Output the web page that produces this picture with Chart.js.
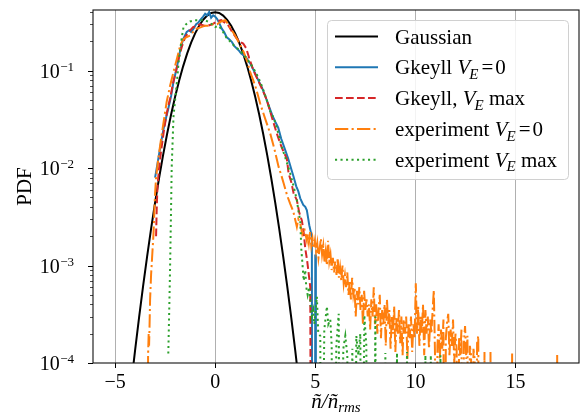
<!DOCTYPE html>
<html>
<head>
<meta charset="utf-8">
<script src="https://cdn.jsdelivr.net/npm/chart.js@4.4.1/dist/chart.umd.min.js"></script>
<style>
  html, body { margin: 0; padding: 0; background: #fff; }
  #wrap { width: 584px; height: 414px; }
</style>
</head>
<body>
<div id="wrap"><canvas id="pdfChart" width="584" height="414"></canvas></div>
<script>
// values (x = n/n_rms, y = PDF); 1e-7 marks empty bins (drop to -inf on log axis)
const gaussX = [-4.2, -4.0, -3.8, -3.6, -3.4, -3.2, -3.0, -2.8, -2.6, -2.4, -2.2, -2.0, -1.8, -1.6, -1.4, -1.2, -1.0, -0.8, -0.6, -0.4, -0.2, 0,
  0.2, 0.4, 0.6, 0.8, 1.0, 1.2, 1.4, 1.6, 1.8, 2.0, 2.2, 2.4, 2.6, 2.8, 3.0, 3.2, 3.4, 3.6, 3.8, 4.0, 4.2];
const gaussY = [5.9e-5, 1.34e-4, 2.92e-4, 6.12e-4, 1.23e-3, 2.38e-3, 4.43e-3, 7.92e-3, 0.0136, 0.0224, 0.0355, 0.054, 0.079, 0.1109, 0.1497, 0.1942, 0.242, 0.2897, 0.3332, 0.3683, 0.391, 0.3989,
  0.391, 0.3683, 0.3332, 0.2897, 0.242, 0.1942, 0.1497, 0.1109, 0.079, 0.054, 0.0355, 0.0224, 0.0136, 7.92e-3, 4.43e-3, 2.38e-3, 1.23e-3, 6.12e-4, 2.92e-4, 1.34e-4, 5.9e-5];

const gkX = [-3.0, -2.9, -2.75, -2.6, -2.5, -2.35, -2.2, -2.08, -1.95, -1.85, -1.75, -1.6, -1.42, -1.3, -1.2, -1.08, -0.95, -0.85, -0.75, -0.6, -0.5, -0.4, -0.3, -0.2, -0.1, 0.0,
  0.1, 0.2, 0.33, 0.45, 0.58, 0.7, 0.83, 0.95, 1.08, 1.2, 1.3, 1.42, 1.55, 1.65, 1.75, 1.88, 2.0, 2.15, 2.33, 2.5, 2.67, 2.85, 3.0, 3.15, 3.3, 3.5, 3.65, 3.8, 3.92,
  4.05, 4.15, 4.25, 4.4, 4.5, 4.58, 4.7, 4.78, 4.83, 4.85, 4.98, 5.0, 5.03];
const gkY = [0.008, 0.0105, 0.016, 0.024, 0.03, 0.04, 0.055, 0.077, 0.1, 0.125, 0.16, 0.21, 0.25, 0.26, 0.25, 0.27, 0.3, 0.31, 0.33, 0.36, 0.385, 0.37, 0.4, 0.35, 0.37, 0.36,
  0.34, 0.31, 0.27, 0.25, 0.22, 0.21, 0.198, 0.18, 0.169, 0.16, 0.15, 0.144, 0.137, 0.125, 0.119, 0.105, 0.094, 0.08, 0.068, 0.055, 0.044, 0.035, 0.03, 0.026, 0.02, 0.0153, 0.0125, 0.0098, 0.0081,
  0.0065, 0.0058, 0.0049, 0.0042, 0.004, 0.0037, 0.0026, 0.0022, 0.002, 1e-7, 1e-7, 0.0013, 1e-7];

const gkMaxX = [-2.95, -2.92, -2.88, -2.8, -2.7, -2.55, -2.4, -2.25, -2.1, -1.95, -1.8, -1.65, -1.5, -1.35, -1.25, -1.1, -0.92, -0.75, -0.55, -0.35, -0.15, 0.08, 0.3, 0.5, 0.67, 0.85,
  1.08, 1.25, 1.4, 1.55, 1.7, 1.92, 2.1, 2.3, 2.45, 2.58, 2.75, 2.9, 3.08, 3.25, 3.4, 3.58, 3.67, 3.8, 3.92, 4.08, 4.2, 4.33, 4.42, 4.5, 4.6, 4.68, 4.75, 4.8];
const gkMaxY = [0.002, 0.0037, 0.0065, 0.01, 0.015, 0.025, 0.038, 0.052, 0.075, 0.1, 0.14, 0.18, 0.22, 0.245, 0.26, 0.28, 0.29, 0.3, 0.29, 0.29, 0.3, 0.32, 0.33, 0.31, 0.29, 0.25,
  0.214, 0.198, 0.19, 0.17, 0.135, 0.1, 0.083, 0.068, 0.058, 0.05, 0.038, 0.03, 0.0227, 0.0179, 0.015, 0.0125, 0.0088, 0.0072, 0.0055, 0.0047, 0.0035, 0.0029, 0.0022, 0.0015, 0.0011, 0.0008, 0.0006, 1e-7];

const expX = [-3.38, -3.35, -3.32, -3.3, -3.28, -3.25, -3.2, -3.15, -3.08, -3.0, -2.95, -2.85, -2.7, -2.55, -2.42, -2.25, -2.08, -1.9, -1.75, -1.6, -1.45, -1.25, -1.1, -0.92, -0.7, -0.5, -0.3, -0.1,
  0.1, 0.3, 0.5, 0.65, 0.83, 1.0, 1.15, 1.3, 1.42, 1.6, 1.75, 1.9, 2.05, 2.25, 2.5, 2.75, 2.95, 3.17, 3.3, 3.42, 3.6, 3.75, 3.9, 4.08, 4.15, 4.25, 4.35, 4.45, 4.58,
  4.62, 4.68, 4.74, 4.8, 4.86, 4.92, 4.98, 5.04, 5.1, 5.16, 5.22, 5.28, 5.34, 5.4, 5.46, 5.52, 5.58, 5.64, 5.7, 5.76, 5.82, 5.88, 5.94,
  6.0, 6.06, 6.12, 6.18, 6.24, 6.3, 6.36, 6.42, 6.48, 6.54, 6.6, 6.66, 6.72, 6.78, 6.84, 6.9, 6.96,
  7.02, 7.08, 7.14, 7.2, 7.26, 7.32, 7.38, 7.44, 7.5, 7.56, 7.62, 7.68, 7.74, 7.8, 7.86, 7.92, 7.98,
  8.04, 8.1, 8.16, 8.22, 8.28, 8.34, 8.4, 8.46, 8.52, 8.58, 8.64, 8.7, 8.76, 8.82, 8.88, 8.94,
  9.0, 9.06, 9.12, 9.18, 9.24, 9.3, 9.36, 9.42, 9.48, 9.54, 9.6, 9.66, 9.72, 9.78, 9.84, 9.9, 9.96,
  10.02, 10.08, 10.14, 10.2, 10.26, 10.32, 10.38, 10.44, 10.5, 10.56, 10.62, 10.68, 10.74, 10.8, 10.86, 10.92, 10.98,
  11.04, 11.1, 11.16, 11.22, 11.28, 11.34, 11.4, 11.46, 11.52, 11.58, 11.64, 11.7, 11.76, 11.82, 11.88, 11.94,
  12.0, 12.06, 12.12, 12.18, 12.24, 12.3, 12.36, 12.42, 12.48, 12.54, 12.6, 12.66, 12.72, 12.78, 12.84, 12.9, 12.96,
  13.02, 13.08, 13.14, 13.2, 13.4, 13.45, 13.5, 13.7, 13.75, 13.8, 14.78, 14.83, 14.88, 17.03, 17.08, 17.13];
const expY = [1e-7, 1.2e-4, 2e-4, 1.5e-4, 2.2e-4, 4.4e-4, 8e-4, 1.2e-3, 2.1e-3, 5.5e-3, 0.008, 0.012, 0.02, 0.032, 0.048, 0.07, 0.097, 0.135, 0.18, 0.21, 0.22, 0.23, 0.25, 0.27, 0.28, 0.29, 0.29, 0.3,
  0.3, 0.32, 0.33, 0.3, 0.26, 0.23, 0.2, 0.175, 0.156, 0.125, 0.097, 0.08, 0.065, 0.046, 0.032, 0.0227, 0.016, 0.0103, 0.0085, 0.007, 0.0052, 0.0043, 0.0036, 0.0025, 0.003, 0.0027, 0.0021, 0.0024, 0.0018,
  2.1e-3, 1.7e-3, 2.2e-3, 1.6e-3, 1.9e-3, 1.5e-3, 1.8e-3, 1.4e-3, 1.7e-3, 1.2e-3, 1.5e-3, 1.9e-3, 1.3e-3, 1.6e-3, 1.1e-3, 1.4e-3, 1e-3, 1.8e-3, 1.1e-3, 1.3e-3, 9e-4, 1.2e-3, 8.5e-4,
  1.1e-3, 8e-4, 1.2e-3, 7.5e-4, 9.5e-4, 7e-4, 1e-3, 6.5e-4, 8e-4, 6e-4, 8.5e-4, 5e-4, 7e-4, 4.5e-4, 7.5e-4, 5e-4, 6e-4,
  3e-4, 5.5e-4, 4e-4, 6e-4, 3.5e-4, 5e-4, 2.5e-4, 5.5e-4, 3.5e-4, 4.5e-4, 3e-4, 4e-4, 2.2e-4, 4.5e-4, 3e-4, 6e-4, 2.5e-4,
  4e-4, 2e-4, 3.5e-4, 5e-4, 1.8e-4, 3.5e-4, 2.5e-4, 4e-4, 1.5e-4, 4.5e-4, 2.5e-4, 3.5e-4, 1.4e-4, 3e-4, 2e-4, 3.8e-4,
  1.3e-4, 3e-4, 2e-4, 3.5e-4, 1.6e-4, 3e-4, 1.2e-4, 2.8e-4, 2e-4, 3e-4, 1.1e-4, 2.5e-4, 1.8e-4, 3e-4, 1.3e-4, 2.5e-4, 1.8e-4,
  6.6e-4, 2e-4, 3.8e-4, 1.5e-4, 3e-4, 2e-4, 4e-4, 1.2e-4, 3.5e-4, 2e-4, 3e-4, 1.4e-4, 2.8e-4, 2e-4, 3.5e-4, 5.6e-4, 1.2e-4,
  1e-7, 1.5e-4, 2.5e-4, 1.1e-4, 2.2e-4, 1.4e-4, 2.8e-4, 1e-7, 1.8e-4, 2.6e-4, 3.2e-4, 1.2e-4, 2.2e-4, 1.5e-4, 2.8e-4, 1e-4,
  2e-4, 1.4e-4, 1e-7, 1.8e-4, 1.2e-4, 2.2e-4, 1e-7, 1.6e-4, 2.4e-4, 1.1e-4, 1.9e-4, 1e-7, 1.5e-4, 1.2e-4, 1e-7, 1.4e-4, 1.1e-4,
  1e-7, 1.6e-4, 1.9e-4, 1e-7, 1e-7, 1.3e-4, 1e-7, 1e-7, 1.3e-4, 1e-7, 1e-7, 1.25e-4, 1e-7, 1e-7, 1.25e-4, 1e-7];

const expMaxX = [-2.34, -2.3, -2.27, -2.25, -2.21, -2.17, -2.12, -2.08, -2.0, -1.9, -1.83, -1.75, -1.65, -1.58, -1.45, -1.25, -1.0, -0.75, -0.5, -0.25, 0.0, 0.15, 0.3, 0.45, 0.58, 0.75, 0.92,
  1.1, 1.25, 1.4, 1.58, 1.75, 1.92, 2.1, 2.25, 2.45, 2.67, 2.75, 2.92, 3.1, 3.33, 3.55, 3.75, 3.92, 4.08, 4.17, 4.25, 4.3, 4.35, 4.42, 4.5, 4.55, 4.62, 4.7, 4.75, 4.82, 4.9, 4.95, 5.0,
  5.08, 5.15, 5.25, 5.3, 5.45, 5.58, 5.65, 5.75, 5.82, 5.9, 6.05, 6.17, 6.25, 6.4, 6.5, 6.6, 6.7, 6.85, 6.95, 7.05, 7.15, 7.25, 7.32, 7.45, 7.55, 7.62, 7.9, 8.0, 8.07,
  8.45, 8.5, 8.55, 9.0, 9.08, 9.15, 9.5, 9.58, 9.65, 10.45, 10.5, 10.55, 10.72, 10.77, 10.82, 11.2, 11.25, 11.3];
const expMaxY = [1.25e-4, 3e-4, 6e-4, 9.7e-4, 3e-3, 0.0103, 0.02, 0.034, 0.05, 0.08, 0.12, 0.162, 0.23, 0.28, 0.3, 0.32, 0.33, 0.33, 0.33, 0.31, 0.28, 0.29, 0.27, 0.24, 0.215, 0.2, 0.183,
  0.17, 0.16, 0.148, 0.133, 0.12, 0.105, 0.09, 0.077, 0.06, 0.044, 0.038, 0.033, 0.025, 0.0165, 0.012, 0.0088, 0.0065, 0.0047, 0.0035, 0.0029, 0.0015, 0.0011, 7e-4, 9e-4, 6e-4, 5e-4, 6e-4, 4.4e-4, 3e-4, 3.5e-4, 2.5e-4, 3.2e-4,
  4.8e-4, 2e-4, 1.9e-4, 1e-7, 2.2e-4, 3.8e-4, 2.5e-4, 2.8e-4, 1.5e-4, 1e-7, 1.5e-4, 3.2e-4, 1e-7, 1.4e-4, 1.9e-4, 1.2e-4, 1e-7, 1.4e-4, 1e-7, 1.9e-4, 1.2e-4, 2e-4, 1e-7, 3.1e-4, 1.5e-4, 1e-7, 1e-7, 3e-4, 1e-7,
  1e-7, 1.27e-4, 1e-7, 1e-7, 1.27e-4, 1e-7, 1e-7, 1.3e-4, 1e-7, 1e-7, 1.2e-4, 1e-7, 1e-7, 1.2e-4, 1e-7, 1e-7, 1.2e-4, 1e-7];

const seriesNames = ['Gaussian', 'Gkeyll V_E=0', 'Gkeyll, V_E max', 'experiment V_E=0', 'experiment V_E max'];
const seriesColors = ['#000000', '#1f77b4', '#d62728', '#ff7f0e', '#2ca02c'];
const seriesDashes = [[], [], [7.7, 3.3], [13.3, 3.3, 2.1, 3.3], [2.1, 3.4]];
const yDecades = [-4, -3, -2, -1];

const SERIF = '"Liberation Serif", "DejaVu Serif", serif';

function pts(xs, ys) {
    return xs.map((x, i) => ({ x: x, y: ys[i] }));
}

// draws "Gkeyll V_E=0" style labels: italic V with subscript E
function drawRich(ctx, str, x, y, size) {
    const idx = str.indexOf('V_E');
    ctx.font = size + 'px ' + SERIF;
    if (idx < 0) { ctx.fillText(str, x, y); return; }
    const pre = str.slice(0, idx);
    let rest = str.slice(idx + 3);
    ctx.fillText(pre, x, y);
    x += ctx.measureText(pre).width;
    ctx.font = 'italic ' + size + 'px ' + SERIF;
    ctx.fillText('V', x, y);
    x += ctx.measureText('V').width - 1;
    const sub = Math.round(size * 0.7);
    ctx.font = 'italic ' + sub + 'px ' + SERIF;
    ctx.fillText('E', x, y + size * 0.22);
    x += ctx.measureText('E').width;
    ctx.font = size + 'px ' + SERIF;
    if (rest[0] === '=') {
        x += 3;
        ctx.fillText('=', x, y);
        x += ctx.measureText('=').width + 2;
        rest = rest.slice(1);
    }
    ctx.fillText(rest, x, y);
}

const overlay = {
    id: 'overlay',
    afterDraw(chart) {
        const ctx = chart.ctx;
        const a = chart.chartArea;
        const ys = chart.scales.y;
        ctx.save();

        // frame
        ctx.strokeStyle = '#111';
        ctx.lineWidth = 1.1;
        ctx.setLineDash([]);
        ctx.strokeRect(a.left, a.top, a.right - a.left, a.bottom - a.top);

        // y ticks (log, with minor ticks) and labels
        ctx.strokeStyle = '#000';
        ctx.fillStyle = '#000';
        for (let e = -4; e <= 0; e++) {
            for (let m = 1; m <= 9; m++) {
                const v = m * Math.pow(10, e);
                if (v < ys.min * 0.999 || v > ys.max) continue;
                const py = Math.round(ys.getPixelForValue(v)) + 0.5;
                const len = m === 1 ? 5 : 3;
                ctx.lineWidth = m === 1 ? 1 : 0.7;
                ctx.beginPath();
                ctx.moveTo(a.left - len, py);
                ctx.lineTo(a.left, py);
                ctx.stroke();
            }
        }
        yDecades.forEach(e => {
            const py = ys.getPixelForValue(Math.pow(10, e));
            const expStr = '\u2212' + Math.abs(e);
            ctx.font = '13px ' + SERIF;
            const wExp = ctx.measureText(expStr).width;
            ctx.font = '20px ' + SERIF;
            const wBase = ctx.measureText('10').width;
            const right = 74;
            const x0 = right - wExp - wBase - 0.5;
            ctx.textBaseline = 'alphabetic';
            ctx.textAlign = 'left';
            ctx.fillText('10', x0, py + 7);
            ctx.font = '13px ' + SERIF;
            ctx.fillText(expStr, x0 + wBase + 0.5, py);
        });

        // axis titles
        ctx.font = '21px ' + SERIF;
        ctx.textAlign = 'center';
        ctx.textBaseline = 'middle';
        ctx.save();
        ctx.translate(25, (a.top + a.bottom) / 2);
        ctx.rotate(-Math.PI / 2);
        ctx.fillText('PDF', 0, 0);
        ctx.restore();

        ctx.textAlign = 'left';
        ctx.textBaseline = 'alphabetic';
        ctx.font = 'italic 21px ' + SERIF;
        const main = '\u00f1/\u00f1';
        const wMain = ctx.measureText(main).width;
        ctx.font = 'italic 15px ' + SERIF;
        const wSub = ctx.measureText('rms').width;
        const cx = (a.left + a.right) / 2;
        let lx = cx - (wMain + wSub) / 2;
        ctx.font = 'italic 21px ' + SERIF;
        ctx.fillText(main, lx, 408);
        ctx.font = 'italic 15px ' + SERIF;
        ctx.fillText('rms', lx + wMain, 412);

        // legend
        const bx = 327.5, by = 20.5, bw = 241, bh = 159;
        ctx.beginPath();
        ctx.roundRect(bx, by, bw, bh, 4);
        ctx.fillStyle = 'rgba(255,255,255,0.85)';
        ctx.fill();
        ctx.strokeStyle = '#d0d0d0';
        ctx.lineWidth = 1;
        ctx.stroke();
        seriesNames.forEach((name, i) => {
            const ry = 36.5 + i * 30.8;
            ctx.strokeStyle = seriesColors[i];
            ctx.lineWidth = 2;
            ctx.setLineDash(seriesDashes[i]);
            ctx.beginPath();
            ctx.moveTo(335, ry);
            ctx.lineTo(378, ry);
            ctx.stroke();
            ctx.setLineDash([]);
            ctx.fillStyle = '#000';
            drawRich(ctx, name, 395, ry + 7, 21);
        });
        ctx.restore();
    }
};

const ctx = document.getElementById('pdfChart').getContext('2d');
const allX = [gaussX, gkX, gkMaxX, expX, expMaxX];
const allY = [gaussY, gkY, gkMaxY, expY, expMaxY];

new Chart(ctx, {
    type: 'line',
    data: {
        datasets: seriesNames.map((name, i) => ({
            label: name,
            data: pts(allX[i], allY[i]),
            borderColor: seriesColors[i],
            borderWidth: 2,
            borderDash: seriesDashes[i],
            pointRadius: 0,
            tension: 0,
            fill: false,
            order: 5 - i
        }))
    },
    options: {
        responsive: false,
        animation: false,
        devicePixelRatio: 1,
        layout: { padding: { left: 0, top: 10, right: 5, bottom: 0 } },
        plugins: {
            legend: { display: false },
            tooltip: { enabled: false }
        },
        scales: {
            x: {
                type: 'linear',
                min: -6.1,
                max: 18.17,
                afterFit: function (s) { s.height = 51; },
                border: { display: false },
                grid: {
                    color: '#b0b0b0',
                    lineWidth: 1,
                    tickColor: '#000',
                    tickLength: 5
                },
                ticks: {
                    stepSize: 5,
                    includeBounds: false,
                    autoSkip: false,
                    maxRotation: 0,
                    color: '#000',
                    padding: 3,
                    font: { family: SERIF, size: 20 },
                    callback: function (v) {
                        return v < 0 ? '\u2212' + Math.abs(v) : String(v);
                    }
                }
            },
            y: {
                type: 'logarithmic',
                min: 1e-4,
                max: 0.42,
                afterFit: function (s) { s.width = 93; },
                border: { display: false },
                grid: { display: false },
                ticks: { display: false }
            }
        }
    },
    plugins: [overlay]
});
</script>
</body>
</html>
